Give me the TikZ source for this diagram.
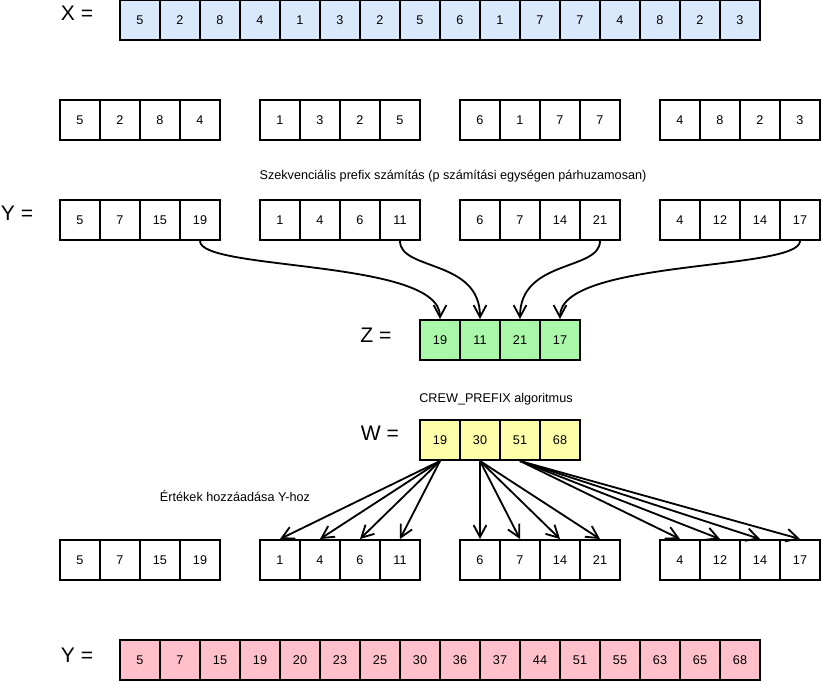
\documentclass[tikz,border=0pt]{standalone}
\usepackage{fontspec}
\setmainfont{Liberation Sans}
\usepackage{xcolor}
\usetikzlibrary{arrows.meta}

\definecolor{xblue}{RGB}{218,232,252}
\definecolor{zgreen}{RGB}{170,247,170}
\definecolor{wyellow}{RGB}{255,255,170}
\definecolor{ypink}{RGB}{255,192,203}

\begin{document}
\begin{tikzpicture}[x=0.025cm, y=-0.025cm,
  >={Straight Barb[length=3mm,width=3.2mm]},
  cell/.style={draw, line width=1.4pt, minimum size=1cm, inner sep=0pt,
    font=\fontsize{9}{10}\selectfont},
  lbl/.style={anchor=base, font=\fontsize{15}{17}\selectfont},
  note/.style={anchor=base, font=\fontsize{9}{10}\selectfont},
  arr/.style={->, line width=1.3pt}]
  \useasboundingbox (0,0) rectangle (821,682);
  % input X
  \node[lbl] (xlbl) at (77,21) {X =};
  \foreach \v [count=\i] in {5,2,8,4,1,3,2,5,6,1,7,7,4,8,2,3}
    \node[cell, fill=xblue] (x\i) at (100+40*\i,20) {\v};
  % split into p blocks
  \foreach \g/\vals in {1/{5,2,8,4},2/{1,3,2,5},3/{6,1,7,7},4/{4,8,2,3}}
    \foreach \v [count=\j] in \vals
      \node[cell] (p\g-\j) at (-160+200*\g+40*\j,120) {\v};
  \node[note] (seqtxt) at (453,180) {Szekvenciális prefix számítás (p számítási egységen párhuzamosan)};
  % local prefixes
  \node[lbl] (ylbl) at (17,221) {Y =};
  \foreach \g/\vals in {1/{5,7,15,19},2/{1,4,6,11},3/{6,7,14,21},4/{4,12,14,17}}
    \foreach \v [count=\j] in \vals
      \node[cell] (y\g-\j) at (-160+200*\g+40*\j,220) {\v};
  % block sums
  \node[lbl] (zlbl) at (376,342) {Z =};
  \foreach \v [count=\j] in {19,11,21,17}
    \node[cell, fill=zgreen] (z\j) at (400+40*\j,340) {\v};
  \foreach \g in {1,...,4}
    \draw[arr] (y\g-4.south) .. controls +(0,30) and +(0,-60) .. (z\g.north);
  \node[note] (crewtxt) at (496,402) {CREW\_PREFIX algoritmus};
  \node[lbl] (wlbl) at (380,440) {W =};
  \foreach \v [count=\j] in {19,30,51,68}
    \node[cell, fill=wyellow] (w\j) at (400+40*\j,440) {\v};
  % add offsets
  \node[note] (addtxt) at (235,501) {Értékek hozzáadása Y-hoz};
  \foreach \g/\vals in {1/{5,7,15,19},2/{1,4,6,11},3/{6,7,14,21},4/{4,12,14,17}}
    \foreach \v [count=\j] in \vals
      \node[cell] (q\g-\j) at (-160+200*\g+40*\j,560) {\v};
  \foreach \g [evaluate=\g as \h using int(\g+1)] in {1,2,3}
    \foreach \j in {1,...,4}
      \draw[arr] (w\g.south) -- (q\h-\j.north);
  % result
  \node[lbl] (rlbl) at (77,662) {Y =};
  \foreach \v [count=\i] in {5,7,15,19,20,23,25,30,36,37,44,51,55,63,65,68}
    \node[cell, fill=ypink] (r\i) at (100+40*\i,660) {\v};
\end{tikzpicture}
\end{document}
